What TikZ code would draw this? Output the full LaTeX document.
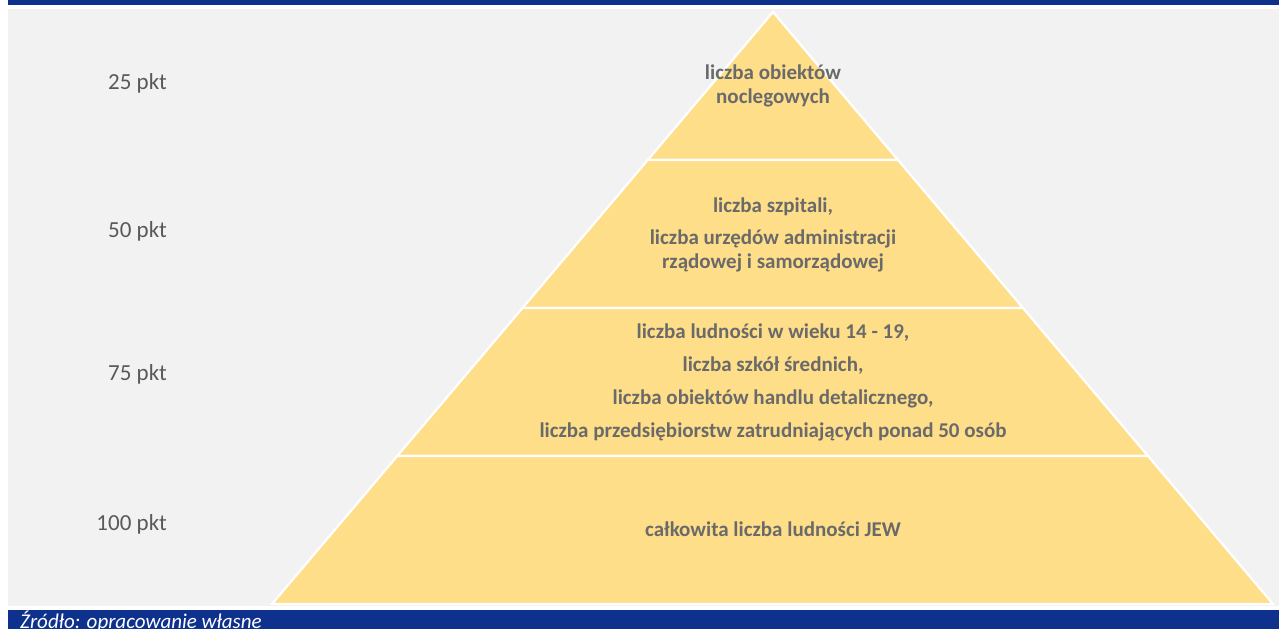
\documentclass[tikz,border=0pt]{standalone}
\usepackage{fontspec}
\setmainfont{Carlito}
\usetikzlibrary{calc}
\definecolor{barblue}{HTML}{0F318E}
\definecolor{panelgray}{HTML}{F2F2F2}
\definecolor{tieryellow}{HTML}{FFDE89}
\definecolor{tiertext}{HTML}{6A6A6A}
\definecolor{ptstext}{HTML}{595959}

\begin{document}
\begin{tikzpicture}[x=1pt, y=-1pt,
    tier/.style={fill=tieryellow, draw=white, line width=2.2pt, line join=miter},
    lab/.style={font=\fontsize{21}{24}\selectfont\bfseries, text=tiertext, align=center, inner sep=0pt},
    pts/.style={font=\fontsize{23}{27}\selectfont, text=ptstext, anchor=base east, inner sep=0pt}]
  \useasboundingbox (0,0) rectangle (1279,629);
  % ---- frame
  \fill[barblue] (8,0) rectangle (1279,5);
  \fill[panelgray] (8,9) rectangle (1279,606);
  \fill[barblue] (8,610) rectangle (1279,629);
  \node[font=\fontsize{21}{25}\selectfont\itshape, text=white, anchor=base west, inner sep=0pt] (src) at (20,628) {Źródło: opracowanie własne};
  % ---- pyramid
  \coordinate (apex) at (773,12);
  \coordinate (bl) at (272,604);
  \coordinate (br) at (1273,604);
  \foreach \i in {1,2,3} {
    \coordinate (l\i) at ($(apex)!\i/4!(bl)$);
    \coordinate (r\i) at ($(apex)!\i/4!(br)$);
  }
  \path[tier] (apex) -- (r1) -- (l1) -- cycle;
  \path[tier] (l1) -- (r1) -- (r2) -- (l2) -- cycle;
  \path[tier] (l2) -- (r2) -- (r3) -- (l3) -- cycle;
  \path[tier] (l3) -- (r3) -- (br) -- (bl) -- cycle;
  % ---- tier texts
  \node[lab] (t1) at (773,86) {liczba obiektów\\noclegowych};
  \node[lab] (t2) at (773,235) {liczba szpitali,\\[8pt]liczba urzędów administracji\\rządowej i samorządowej};
  \node[lab] (t3) at (773,382) {liczba ludności w wieku 14 - 19,\\[9pt]liczba szkół średnich,\\[9pt]liczba obiektów handlu detalicznego,\\[9pt]liczba przedsiębiorstw zatrudniających ponad 50 osób};
  \node[lab] (t4) at (773,529) {całkowita liczba ludności JEW};
  % ---- points
  \node[pts] (p1) at (167,89) {25 pkt};
  \node[pts] (p2) at (167,237) {50 pkt};
  \node[pts] (p3) at (167,380) {75 pkt};
  \node[pts] (p4) at (167,530) {100 pkt};
\end{tikzpicture}
\end{document}
